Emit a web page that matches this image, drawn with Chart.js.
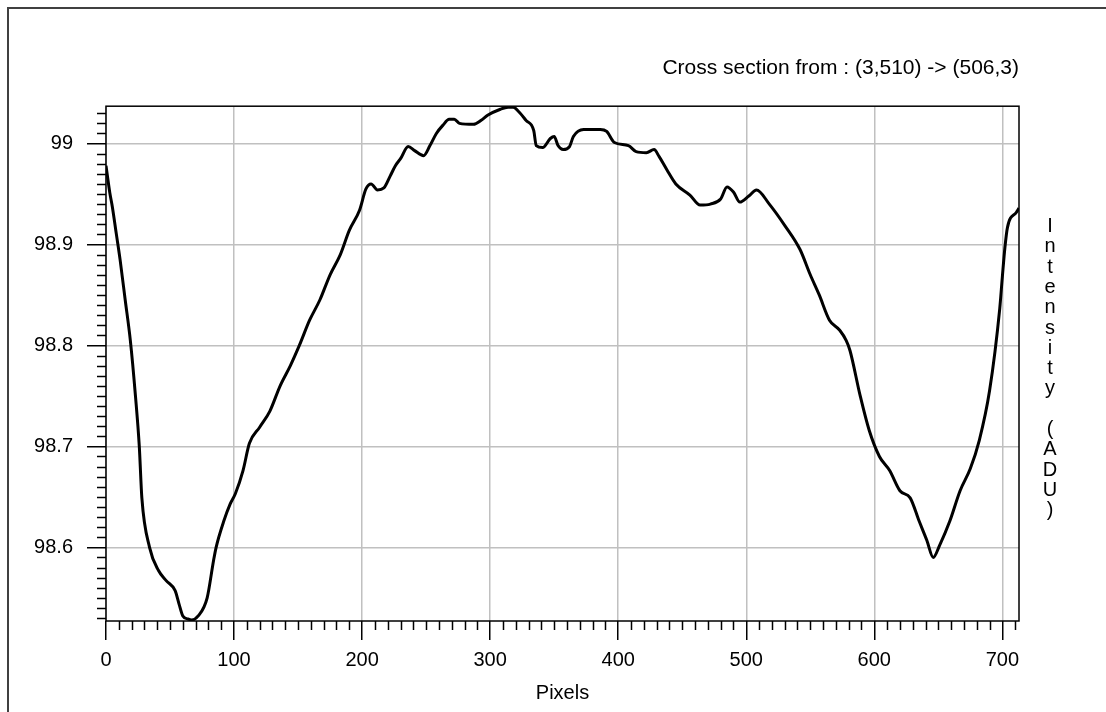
<!DOCTYPE html>
<html>
<head>
<meta charset="utf-8">
<script src="https://cdn.jsdelivr.net/npm/chart.js@4/dist/chart.umd.min.js"></script>
<style>
  html, body { margin: 0; padding: 0; background: #fff; }
  #wrap { width: 1106px; height: 712px; }
</style>
</head>
<body>
<div id="wrap"><canvas id="chart" width="1106" height="712"></canvas></div>
<script>
// cross section values
const pixels = [0, 3, 5, 8, 11, 15, 19, 23, 26, 28, 34, 41, 47, 54, 57, 60, 64, 67, 72, 79,
  84, 86, 92, 97, 101, 107, 112, 120, 128, 136, 144, 151, 159, 167, 175, 183, 190, 198, 203, 207,
  212, 217, 222, 226, 230, 236, 241, 248, 253, 258, 263, 268, 272, 276, 287, 293, 298, 308, 314, 318,
  322, 328, 334, 336, 341, 347, 350, 353, 357, 362, 365, 373, 386, 391, 397, 408, 414, 422, 428, 432,
  438, 445, 456, 464, 472, 480, 485, 490, 495, 502, 508, 518, 530, 542, 550, 557, 565, 573, 578, 581,
  589, 596, 604, 612, 620, 628, 635, 641, 646, 651, 659, 667, 675, 682, 690, 698, 700, 702, 704, 711, 713]
const intensity = [98.978, 98.951, 98.937, 98.911, 98.885, 98.845, 98.805, 98.750, 98.700, 98.649,
  98.600, 98.577, 98.567, 98.557, 98.544, 98.532, 98.529, 98.528, 98.532, 98.550,
  98.587, 98.600, 98.626, 98.643, 98.653, 98.676, 98.703, 98.719, 98.735, 98.760,
  98.780, 98.800, 98.825, 98.845, 98.870, 98.890, 98.914, 98.934, 98.955, 98.960,
  98.954, 98.956, 98.968, 98.978, 98.985, 98.997, 98.993, 98.988, 98.998, 99.010,
  99.018, 99.024, 99.024, 99.020, 99.019, 99.023, 99.028, 99.034, 99.036, 99.036,
  99.032, 99.023, 99.013, 98.998, 98.996, 99.005, 99.007, 98.998, 98.994, 98.997,
  99.007, 99.014, 99.014, 99.012, 99.001, 98.998, 98.992, 98.991, 98.994, 98.987,
  98.974, 98.960, 98.949, 98.939, 98.940, 98.945, 98.957, 98.952, 98.942, 98.948,
  98.954, 98.940, 98.919, 98.895, 98.870, 98.850, 98.825, 98.815, 98.805, 98.795,
  98.750, 98.716, 98.690, 98.676, 98.656, 98.649, 98.626, 98.607, 98.590, 98.602,
  98.626, 98.656, 98.678, 98.706, 98.755, 98.837, 98.868, 98.897, 98.917, 98.932, 98.936]

const titleText = 'Cross section from : (3,510) -> (506,3)'
const xLabel = 'Pixels'
const yLabel = 'Intensity (ADU)'

const fontFamily = "'Liberation Sans', Arial, sans-serif"
const gridColor = 'rgb(192,192,192)'

// frame, plot border, minor ticks and the stacked axis label
const decorations = {
  id: 'decorations',
  beforeDraw(chart) {
    const ctx = chart.ctx
    ctx.save()
    ctx.strokeStyle = '#404040'
    ctx.lineWidth = 2
    ctx.beginPath()
    ctx.moveTo(8, 712)
    ctx.lineTo(8, 8)
    ctx.lineTo(1106, 8)
    ctx.stroke()
    ctx.restore()
  },
  afterDraw(chart) {
    const ctx = chart.ctx
    const area = chart.chartArea
    const x = chart.scales.x
    const y = chart.scales.y
    ctx.save()
    ctx.strokeStyle = '#000'
    ctx.lineWidth = 1.5
    ctx.strokeRect(area.left, area.top, area.right - area.left, area.bottom - area.top)

    ctx.beginPath()
    for (let v = 10; v <= x.max; v += 10) {
      if (v % 100 === 0) continue
      const px = Math.round(x.getPixelForValue(v)) + 0.5
      ctx.moveTo(px, area.bottom)
      ctx.lineTo(px, area.bottom + 9)
    }
    for (let k = 9853; k <= 9903; k++) {
      if (k % 10 === 0) continue
      const py = Math.round(y.getPixelForValue(k / 100)) + 0.5
      ctx.moveTo(area.left - 9, py)
      ctx.lineTo(area.left, py)
    }
    ctx.stroke()

    ctx.fillStyle = '#000'
    ctx.font = '20px ' + fontFamily
    ctx.textAlign = 'center'
    ctx.textBaseline = 'alphabetic'
    yLabel.split('').forEach((ch, i) => {
      ctx.fillText(ch, 1050, 232 + i * 20.3)
    })
    ctx.restore()
  }
}

new Chart(document.getElementById('chart'), {
  type: 'line',
  data: {
    datasets: [{
      data: pixels.map((p, i) => ({ x: p, y: intensity[i] })),
      borderColor: '#000',
      borderWidth: 3,
      pointRadius: 0,
      cubicInterpolationMode: 'monotone',
      fill: false
    }]
  },
  options: {
    responsive: false,
    animation: false,
    events: [],
    layout: { padding: { left: 0, top: 0, right: 87, bottom: 0 } },
    plugins: {
      legend: { display: false },
      tooltip: { enabled: false },
      title: {
        display: true,
        text: titleText,
        align: 'end',
        color: '#000',
        font: { family: fontFamily, size: 21, weight: 'normal', lineHeight: 1.2 },
        padding: { top: 56, bottom: 25 }
      }
    },
    scales: {
      x: {
        type: 'linear',
        min: 0,
        max: 713,
        afterFit(scale) { scale.height = 91 },
        border: { display: false },
        grid: { color: gridColor, lineWidth: 1.5, tickColor: '#000', tickLength: 19, tickWidth: 1.5 },
        ticks: { stepSize: 100, includeBounds: false, padding: 8, color: '#000', maxRotation: 0,
          font: { family: fontFamily, size: 20 } },
        title: { display: true, text: xLabel, color: '#000', padding: { top: 0, bottom: 7 },
          font: { family: fontFamily, size: 20, lineHeight: 1.2 } }
      },
      y: {
        min: 98.527,
        max: 99.037,
        afterFit(scale) { scale.width = 106 },
        border: { display: false },
        grid: { color: gridColor, lineWidth: 1.5, tickColor: '#000', tickLength: 19, tickWidth: 1.5 },
        ticks: { stepSize: 0.1, includeBounds: false, padding: 14, color: '#000',
          font: { family: fontFamily, size: 20 },
          callback: v => Math.round(v * 10) / 10 }
      }
    }
  },
  plugins: [decorations]
})
</script>
</body>
</html>
